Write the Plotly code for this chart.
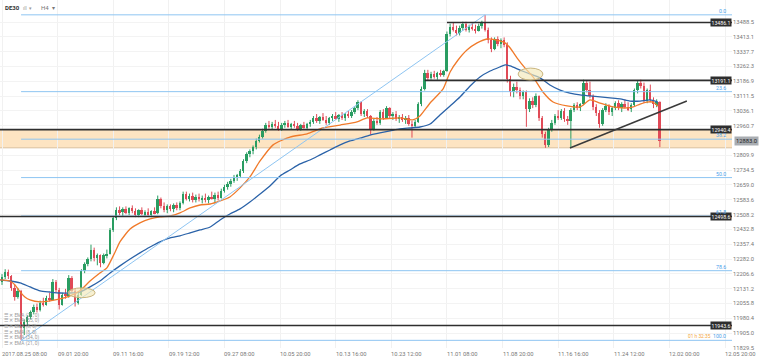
import plotly.graph_objects as go

# ---------------- data ----------------
symbol = "DE30"
timeframe = "H4"

# candles (each candle here = 2 H4 bars of the reference)
opens = [12165,12190,12215,12195,12135,12090,12120,11930,11960,11985,12010,12040,12025,12060,12050,12085,12075,12165,12125,12050,
         12100,12095,12185,12120,12060,12100,12220,12255,12280,12330,12285,12300,12260,12300,12310,12430,12490,12530,12520,12535,
         12515,12540,12525,12505,12530,12510,12520,12505,12525,12515,12590,12550,12530,12550,12535,12555,12540,12565,12615,12590,
         12605,12580,12600,12585,12595,12580,12600,12590,12610,12595,12630,12650,12665,12680,12700,12705,12730,12780,12815,12830,
         12850,12885,12905,12935,12965,12955,12970,12960,12945,12965,12975,12955,12968,12960,12945,12962,12950,12970,12980,13000,
         12985,13005,12990,12975,13000,13010,12995,13015,13000,13020,13010,13030,13050,13080,13020,13035,13010,12945,12985,12975,
         13030,13000,13050,13010,13020,12995,13005,12990,13000,12970,12960,12980,13070,13150,13230,13205,13225,13210,13228,13220,
         13240,13425,13465,13450,13430,13460,13480,13450,13465,13455,13445,13470,13485,13450,13395,13350,13400,13375,13395,13370,
         13200,13130,13160,13140,13110,13130,13045,13085,13065,13110,13000,12920,12860,12940,12975,13010,13000,13035,12995,12985,
         13040,13065,13050,13070,13180,13140,13110,13055,13025,12970,13040,13060,13030,13050,13075,13050,13070,13055,13045,13065,
         13140,13180,13165,13085,13140,13090,13070,13080]
highs = [12205,12230,12228,12200,12150,12135,12125,11975,11995,12020,12050,12055,12070,12085,12095,12110,12180,12175,12135,12110,
         12130,12200,12195,12130,12110,12230,12265,12290,12355,12340,12310,12305,12310,12330,12440,12500,12545,12550,12545,12550,
         12545,12555,12540,12535,12545,12530,12540,12530,12545,12605,12595,12570,12560,12560,12565,12570,12575,12625,12625,12615,
         12620,12610,12615,12605,12615,12605,12625,12620,12625,12640,12660,12675,12690,12710,12715,12740,12790,12825,12840,12860,
         12895,12915,12945,12975,12985,12980,12990,12980,12975,12985,12990,12975,12985,12975,12970,12980,12975,12990,13010,13020,
         13010,13025,13010,13005,13020,13030,13020,13030,13025,13035,13040,13060,13090,13085,13045,13045,13015,12995,13005,13040,
         13045,13060,13055,13030,13035,13015,13020,13010,13015,12985,12990,13080,13160,13245,13245,13235,13240,13235,13245,13245,
         13440,13480,13485,13470,13470,13490,13490,13475,13485,13475,13480,13495,13525,13460,13410,13410,13415,13405,13410,13385,
         13215,13175,13185,13155,13140,13140,13100,13105,13125,13115,13010,12930,12950,12990,13020,13040,13045,13050,13010,13050,
         13075,13080,13075,13195,13190,13185,13120,13070,13040,13050,13075,13070,13060,13085,13090,13080,13095,13080,13075,13150,
         13190,13195,13180,13150,13170,13105,13095,13085]
lows = [12150,12180,12180,12120,12070,12080,11868,11895,11945,11975,12000,12010,12015,12040,12045,12065,12070,12110,12025,12045,
        12080,12085,12110,12040,12050,12095,12210,12245,12270,12270,12250,12240,12255,12285,12305,12420,12480,12505,12500,12510,
        12505,12515,12495,12495,12505,12495,12500,12495,12510,12510,12540,12520,12515,12525,12520,12530,12530,12560,12580,12575,
        12570,12570,12575,12565,12570,12565,12585,12565,12580,12590,12620,12635,12650,12670,12680,12695,12720,12770,12800,12815,
        12840,12875,12895,12925,12945,12940,12950,12935,12935,12950,12950,12940,12950,12935,12935,12945,12938,12955,12970,12975,
        12970,12985,12965,12965,12985,12990,12980,12990,12985,13000,13000,13020,13040,13010,13005,13000,12915,12935,12965,12965,
        12990,12995,13000,12990,12985,12975,12980,12970,12960,12900,12950,12975,13060,13140,13190,13195,13200,13195,13210,13210,
        13235,13415,13440,13420,13420,13445,13440,13435,13445,13430,13440,13455,13440,13380,13335,13345,13365,13355,13360,13180,
        13110,13105,13125,13095,13095,12955,13030,13050,13055,12985,12900,12848,12852,12930,12965,12990,12990,12980,12965,12852,
        13030,13040,13035,13065,13130,13100,13040,13010,12950,12960,13030,13015,13010,13040,13040,13030,13050,13035,13030,13060,
        13125,13150,13075,13075,13080,13050,13055,12852]
closes = [12190,12215,12195,12135,12090,12120,11930,11960,11985,12010,12040,12025,12060,12050,12085,12075,12165,12125,12050,12100,
          12095,12185,12120,12060,12100,12220,12255,12280,12330,12285,12300,12260,12300,12310,12430,12490,12530,12520,12535,12515,
          12540,12525,12505,12530,12510,12520,12505,12525,12515,12590,12550,12530,12550,12535,12555,12540,12565,12615,12590,12605,
          12580,12600,12585,12595,12580,12600,12590,12610,12595,12630,12650,12665,12680,12700,12705,12730,12780,12815,12830,12850,
          12885,12905,12935,12965,12955,12970,12960,12945,12965,12975,12955,12968,12960,12945,12962,12950,12970,12980,13000,12985,
          13005,12990,12975,13000,13010,12995,13015,13000,13020,13010,13030,13050,13080,13020,13035,13010,12945,12985,12975,13030,
          13000,13050,13010,13020,12995,13005,12990,13000,12970,12960,12980,13070,13150,13230,13205,13225,13210,13228,13220,13240,
          13425,13465,13450,13430,13460,13480,13450,13465,13455,13445,13470,13485,13450,13395,13350,13400,13375,13395,13370,13200,
          13130,13160,13140,13110,13130,13045,13085,13065,13110,13000,12920,12860,12940,12975,13010,13000,13035,12995,12985,13040,
          13065,13050,13070,13180,13140,13110,13055,13025,12970,13040,13060,13030,13050,13075,13050,13070,13055,13045,13065,13140,
          13180,13165,13085,13140,13090,13070,13080,12883]

# EMA lines (sampled, in candle-index units)
ema_fast_x = [-0.6,2.5,4.1,5.7,7.2,8.8,12.0,15.1,18.3,21.4,24.5,27.7,30.8,33.0,35.6,37.1,40.3,43.4,46.6,49.7,52.9,56.0,59.2,62.3,
              65.5,68.6,71.7,74.9,78.0,81.2,85.3,90.6,96.0,101.0,106.4,111.7,114.9,118.9,125.2,129.3,131.5,134.7,138.8,141.0,143.5,
              146.3,149.5,152.6,156.7,158.3,159.9,162.1,164.6,167.1,170.2,173.4,177.8,181.9,185.0,188.2,192.3,196.7,198.6,200.8,202.9,
              204.8,206.4]
ema_fast = [12176,12170,12150,12115,12089,12074,12064,12069,12079,12094,12120,12170,12211,12237,12318,12369,12435,12466,12486,12496,
            12501,12517,12542,12557,12562,12578,12598,12644,12700,12781,12863,12903,12919,12949,12964,12980,13000,12995,13000,12990,
            13010,13076,13148,13234,13295,13346,13382,13402,13392,13382,13356,13305,13254,13209,13132,13081,13061,13056,13092,13076,
            13056,13051,13056,13071,13081,13081,13061]
ema_slow_x = [-0.6,2.5,5.7,8.8,12.0,15.1,18.3,21.4,24.5,27.7,30.8,34.0,37.1,40.3,43.4,46.6,49.7,52.9,56.0,59.2,62.3,65.5,68.6,71.7,
              74.9,78.0,81.2,84.3,87.5,90.6,93.8,96.9,100.1,103.2,106.4,109.5,112.7,115.8,118.9,122.1,125.2,128.4,131.5,134.7,137.8,
              141.0,144.1,147.3,150.4,153.6,156.7,158.3,159.9,163.0,166.1,169.3,172.4,175.6,178.7,181.9,185.0,188.2,191.3,194.5,197.6,
              200.8,203.9,206.4]
ema_slow = [12176,12170,12160,12140,12120,12114,12109,12109,12114,12140,12170,12211,12247,12282,12313,12343,12369,12389,12400,12415,
            12430,12445,12481,12511,12537,12572,12613,12654,12705,12735,12766,12786,12812,12837,12863,12883,12898,12913,12924,12934,
            12944,12949,12954,12969,13015,13061,13107,13163,13209,13239,13260,13270,13265,13244,13224,13204,13168,13142,13127,13117,
            13112,13107,13102,13097,13086,13086,13092,13081]

# x axis: one tick every 35 H4 bars (= 17.5 candles here)
date_labels = ["2017.08.25 08:00","09.01 20:00","09.11 16:00","09.19 12:00","09.27 08:00","10.05 20:00","10.13 16:00",
               "10.23 12:00","11.01 08:00","11.08 20:00","11.16 16:00","11.24 12:00","12.02 00:00","12.05 20:00"]
candles_per_tick = 17.5
# price scale labels (12885.3 sits under the current-price tag in the reference)
price_ticks = ["11829.5","11905.0","11980.4","12055.8","12131.2","12206.6","12282.0","12357.4","12432.8","12508.2","12583.6",
               "12659.0","12734.5","12809.9","12960.7","13036.1","13111.5","13186.9","13262.3","13337.7","13413.1","13488.5"]

# Fibonacci retracement (low -> high)
fib_low, fib_high = 11868.0, 13525.0
fib_low_idx, fib_high_idx = 6, 152
fib_pcts = [0.0, 23.6, 38.2, 50.0, 61.8, 78.6, 100.0]

# horizontal support/resistance levels and the candle where each starts
levels = [13486.1, 13191.1, 12940.4, 12498.6, 11943.6]
level_start = [140, 133, -1, -1, -1]
zone_low, zone_high = 12848.0, 12940.4
current_price = 12883.0
countdown = "01 h 32:35"
trend_pts = ([178.7, 215.5], [12847, 13086])
ellipses = [(20.8, 29.3, 12085, 12135), (162.4, 170.2, 13193, 13254)]
ema_legend = ["EMA (21, 0)", "EMA (55, 0)", "EMA (8, 0)", "EMA (8, 0)", "EMA (34, 0)", "EMA (21, 0)"]

# ---------------- figure ----------------
W, H = 760, 360
ML, MR, MT, MB = 0, 28, 0, 12
PH = H - MT - MB
XMIN, XMAX = -0.63, 229.7
YMIN, YMAX = 11829.0, 13600.5

GREEN = "#2a9d62"
RED = "#e04a57"
FIB = "#8ec5f2"
DARK = "#2e2e2e"
FONT = "Roboto"

fig = go.Figure()

idx = list(range(len(closes)))
up = [i for i in idx if closes[i] >= opens[i]]
dn = [i for i in idx if closes[i] < opens[i]]

def wick_xy(ids):
    xs, ys = [], []
    for i in ids:
        xs += [i, i, None]
        ys += [lows[i], highs[i], None]
    return xs, ys

for ids, col in ((up, GREEN), (dn, RED)):
    wx, wy = wick_xy(ids)
    fig.add_trace(go.Scatter(x=wx, y=wy, mode="lines", line=dict(color=col, width=1), hoverinfo="skip"))
    fig.add_trace(go.Bar(
        x=ids,
        y=[max(abs(closes[i] - opens[i]), 4) for i in ids],
        base=[min(opens[i], closes[i]) for i in ids],
        width=0.6, marker=dict(color=col, line=dict(width=0)), hoverinfo="skip"))

fig.add_trace(go.Scatter(x=ema_slow_x, y=ema_slow, mode="lines",
                         line=dict(color="#2a62a8", width=1.3, shape="spline", smoothing=0.6), hoverinfo="skip"))
fig.add_trace(go.Scatter(x=ema_fast_x, y=ema_fast, mode="lines",
                         line=dict(color="#f07a2a", width=1.3, shape="spline", smoothing=0.6), hoverinfo="skip"))

shapes = []
# zone band
shapes.append(dict(type="rect", xref="x", yref="y", x0=XMIN, x1=XMAX, y0=zone_low, y1=zone_high,
                   fillcolor="#fde4c2", line=dict(width=0), layer="below"))
shapes.append(dict(type="line", xref="x", yref="y", x0=XMIN, x1=XMAX, y0=zone_low, y1=zone_low,
                   line=dict(color="#d9bf9c", width=1), layer="below"))
# fib levels
fib_levels = [fib_high - p / 100.0 * (fib_high - fib_low) for p in fib_pcts]
for lv in fib_levels:
    shapes.append(dict(type="line", xref="x", yref="y", x0=fib_low_idx, x1=XMAX, y0=lv, y1=lv,
                       line=dict(color=FIB, width=1), layer="above"))
shapes.append(dict(type="line", xref="x", yref="y", x0=fib_low_idx, x1=fib_high_idx, y0=fib_low, y1=fib_high,
                   line=dict(color=FIB, width=1), layer="above"))
# black levels
for lv, st in zip(levels, level_start):
    shapes.append(dict(type="line", xref="x", yref="y", x0=max(st, XMIN), x1=XMAX, y0=lv, y1=lv,
                       line=dict(color=DARK, width=1.6), layer="above"))
# trend line
shapes.append(dict(type="line", xref="x", yref="y", x0=trend_pts[0][0], x1=trend_pts[0][1],
                   y0=trend_pts[1][0], y1=trend_pts[1][1], line=dict(color="#3a3a3a", width=1.5), layer="above"))
# ellipses
for (x0, x1, y0, y1) in ellipses:
    shapes.append(dict(type="circle", xref="x", yref="y", x0=x0, x1=x1, y0=y0, y1=y1,
                       fillcolor="rgba(242,232,185,0.65)", line=dict(color="#c9b47c", width=1), layer="above"))

ann = []
# x tick labels (left aligned at tick)
for k, lab in enumerate(date_labels):
    ann.append(dict(x=k * candles_per_tick, y=0, xref="x", yref="paper", text=lab, showarrow=False,
                    xanchor="left", yanchor="top", xshift=-2, yshift=-1,
                    font=dict(family=FONT, size=5.8, color="#777")))
# black level labels
for lv in levels:
    ann.append(dict(x=1, y=lv, xref="paper", yref="y", text=f"{lv:.1f}", showarrow=False, xanchor="right",
                    yanchor="middle", bgcolor=DARK, borderpad=0.5,
                    font=dict(family=FONT, size=5.2, color="white")))
# fib labels
for p, lv in zip(fib_pcts, fib_levels):
    ann.append(dict(x=1, y=lv, xref="paper", yref="y", text=f"{p:.1f}", showarrow=False, xanchor="right",
                    yanchor="bottom", xshift=-4, yshift=-1, font=dict(family=FONT, size=5.2, color="#4aa0ea")))
# countdown to next candle
ann.append(dict(x=1, y=fib_low, xref="paper", yref="y", text=countdown, showarrow=False, xanchor="right",
                yanchor="bottom", xshift=-19, yshift=-1, font=dict(family=FONT, size=4.8, color="#f3a53a")))
# current price
ann.append(dict(x=1, y=current_price, xref="paper", yref="y", text=f"{current_price:.1f}", showarrow=False,
                xanchor="left", yanchor="middle", xshift=2, bgcolor="#a9adb2", borderpad=1,
                font=dict(family=FONT, size=5.8, color="#222")))
# header
ann.append(dict(x=0, y=1 - 8 / PH, xref="paper", yref="paper", text=f"<b>{symbol}</b>", showarrow=False,
                xanchor="left", yanchor="middle", xshift=3, font=dict(family=FONT, size=6, color="#333")))
ann.append(dict(x=0, y=1 - 8 / PH, xref="paper", yref="paper", text="ıll  ▾", showarrow=False,
                xanchor="left", yanchor="middle", xshift=21, font=dict(family=FONT, size=5, color="#999")))
ann.append(dict(x=0, y=1 - 8 / PH, xref="paper", yref="paper", text=f"{timeframe}  ▾", showarrow=False,
                xanchor="left", yanchor="middle", xshift=39, font=dict(family=FONT, size=6, color="#777")))
# EMA legend
for r, lab in enumerate(ema_legend):
    ypx = 315 + r * 5.7
    ann.append(dict(x=0, y=1 - ypx / PH, xref="paper", yref="paper", text="☰ ✕ " + lab, showarrow=False,
                    xanchor="left", yanchor="middle", xshift=2, font=dict(family=FONT, size=4.8, color="#999")))

fig.update_layout(
    width=W, height=H, margin=dict(l=ML, r=MR, t=MT, b=MB),
    paper_bgcolor="white", plot_bgcolor="white",
    showlegend=False, barmode="overlay", bargap=0,
    shapes=shapes, annotations=ann,
    xaxis=dict(range=[XMIN, XMAX], tickvals=[k * candles_per_tick for k in range(len(date_labels))],
               showticklabels=False, ticks="", showgrid=True, gridcolor="#f1f1f1", gridwidth=1,
               zeroline=False, showline=False, fixedrange=True),
    yaxis=dict(range=[YMIN, YMAX], side="right", tickvals=[float(t) for t in price_ticks], ticktext=price_ticks,
               tickfont=dict(family=FONT, size=5.8, color="#777"), ticks="", showgrid=True, gridcolor="#f3f3f3",
               zeroline=False, showline=False, fixedrange=True),
)

fig.write_html("out.html", config={"displayModeBar": False},
               post_script="document.body.style.margin='0';document.body.style.overflow='hidden';")
